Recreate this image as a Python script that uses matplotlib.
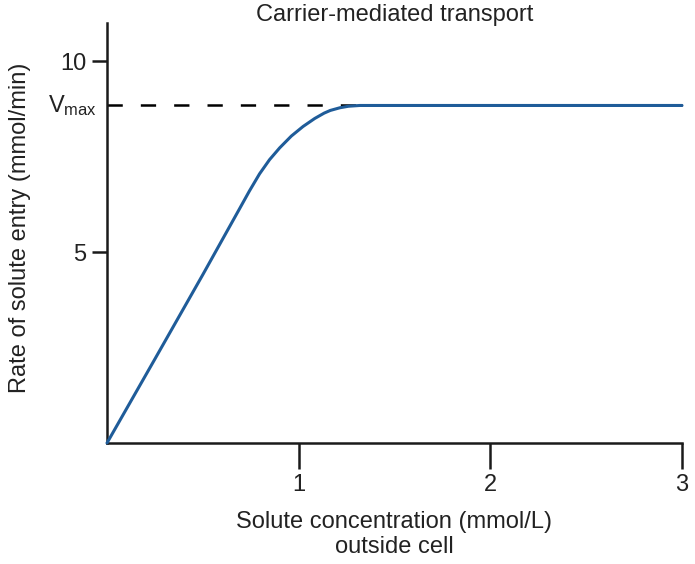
import matplotlib
matplotlib.use("Agg")
import matplotlib.pyplot as plt

plt.rcParams['font.family'] = ['Liberation Sans', 'DejaVu Sans']
plt.rcParams['mathtext.fontset'] = 'custom'
plt.rcParams['mathtext.rm'] = 'Liberation Sans'
plt.rcParams['mathtext.it'] = 'Liberation Sans'
plt.rcParams['lines.scale_dashes'] = False

# Data
conc = [0.0, 0.25, 0.5, 0.691, 0.743, 0.796, 0.848, 0.901, 0.962,
        1.023, 1.084, 1.133, 1.165, 1.215, 1.26, 1.319, 1.4, 2.0, 2.5, 3.0]
rate = [0.0, 2.20, 4.41, 6.13, 6.60, 7.05, 7.42, 7.73, 8.04,
        8.29, 8.50, 8.64, 8.71, 8.78, 8.82, 8.84, 8.84, 8.84, 8.84, 8.84]
vmax = 8.84
x_ticks = [1, 2, 3]
y_ticks = [5, 10]
title = "Carrier-mediated transport"
xlabel_1 = "Solute concentration (mmol/L)"
xlabel_2 = "outside cell"
ylabel = "Rate of solute entry (mmol/min)"

W, H = 695, 564
fig = plt.figure(figsize=(W / 100, H / 100), dpi=100)
ax = fig.add_axes([107 / W, (H - 443) / H, (682 - 107) / W, (443 - 23) / H])

ax.set_xlim(0, 3)
ax.set_ylim(0, 11.0)

ax.plot([0, 3], [vmax, vmax], color='black', lw=1.8, linestyle=(0, (11, 13)), clip_on=False, zorder=2)
ax.plot(conc, rate, color='#1f5c99', lw=2.2, clip_on=False, zorder=3,
        solid_capstyle='round', solid_joinstyle='round')

for s in ['top', 'right']:
    ax.spines[s].set_visible(False)
for s in ['left', 'bottom']:
    ax.spines[s].set_linewidth(1.8)
    ax.spines[s].set_color('#1a1a1a')

ax.set_xticks(x_ticks)
ax.set_xticklabels([str(v) for v in x_ticks])
ax.set_yticks(y_ticks)
ax.set_yticklabels([str(v) for v in y_ticks])
ax.tick_params(axis='x', length=19, width=1.8, pad=3, labelsize=17, color='#1a1a1a', labelcolor='#222222')
ax.tick_params(axis='y', length=11, width=1.8, pad=4, labelsize=17, color='#1a1a1a', labelcolor='#222222')

ax.text(-0.05, vmax, r"V$_{\mathrm{max}}$", ha='right', va='center', fontsize=17, color='#222222')

fig.text(394.5 / W, 1 - 15 / H, title, ha='center', va='center', fontsize=17, color='#222222')
fig.text(394.5 / W, 1 - 522 / H, xlabel_1, ha='center', va='center', fontsize=17, color='#222222')
fig.text(394.5 / W, 1 - 547 / H, xlabel_2, ha='center', va='center', fontsize=17, color='#222222')
fig.text(20 / W, 1 - 228 / H, ylabel, ha='center', va='center', rotation=90, fontsize=17, color='#222222')

fig.savefig("out.png", dpi=100)
